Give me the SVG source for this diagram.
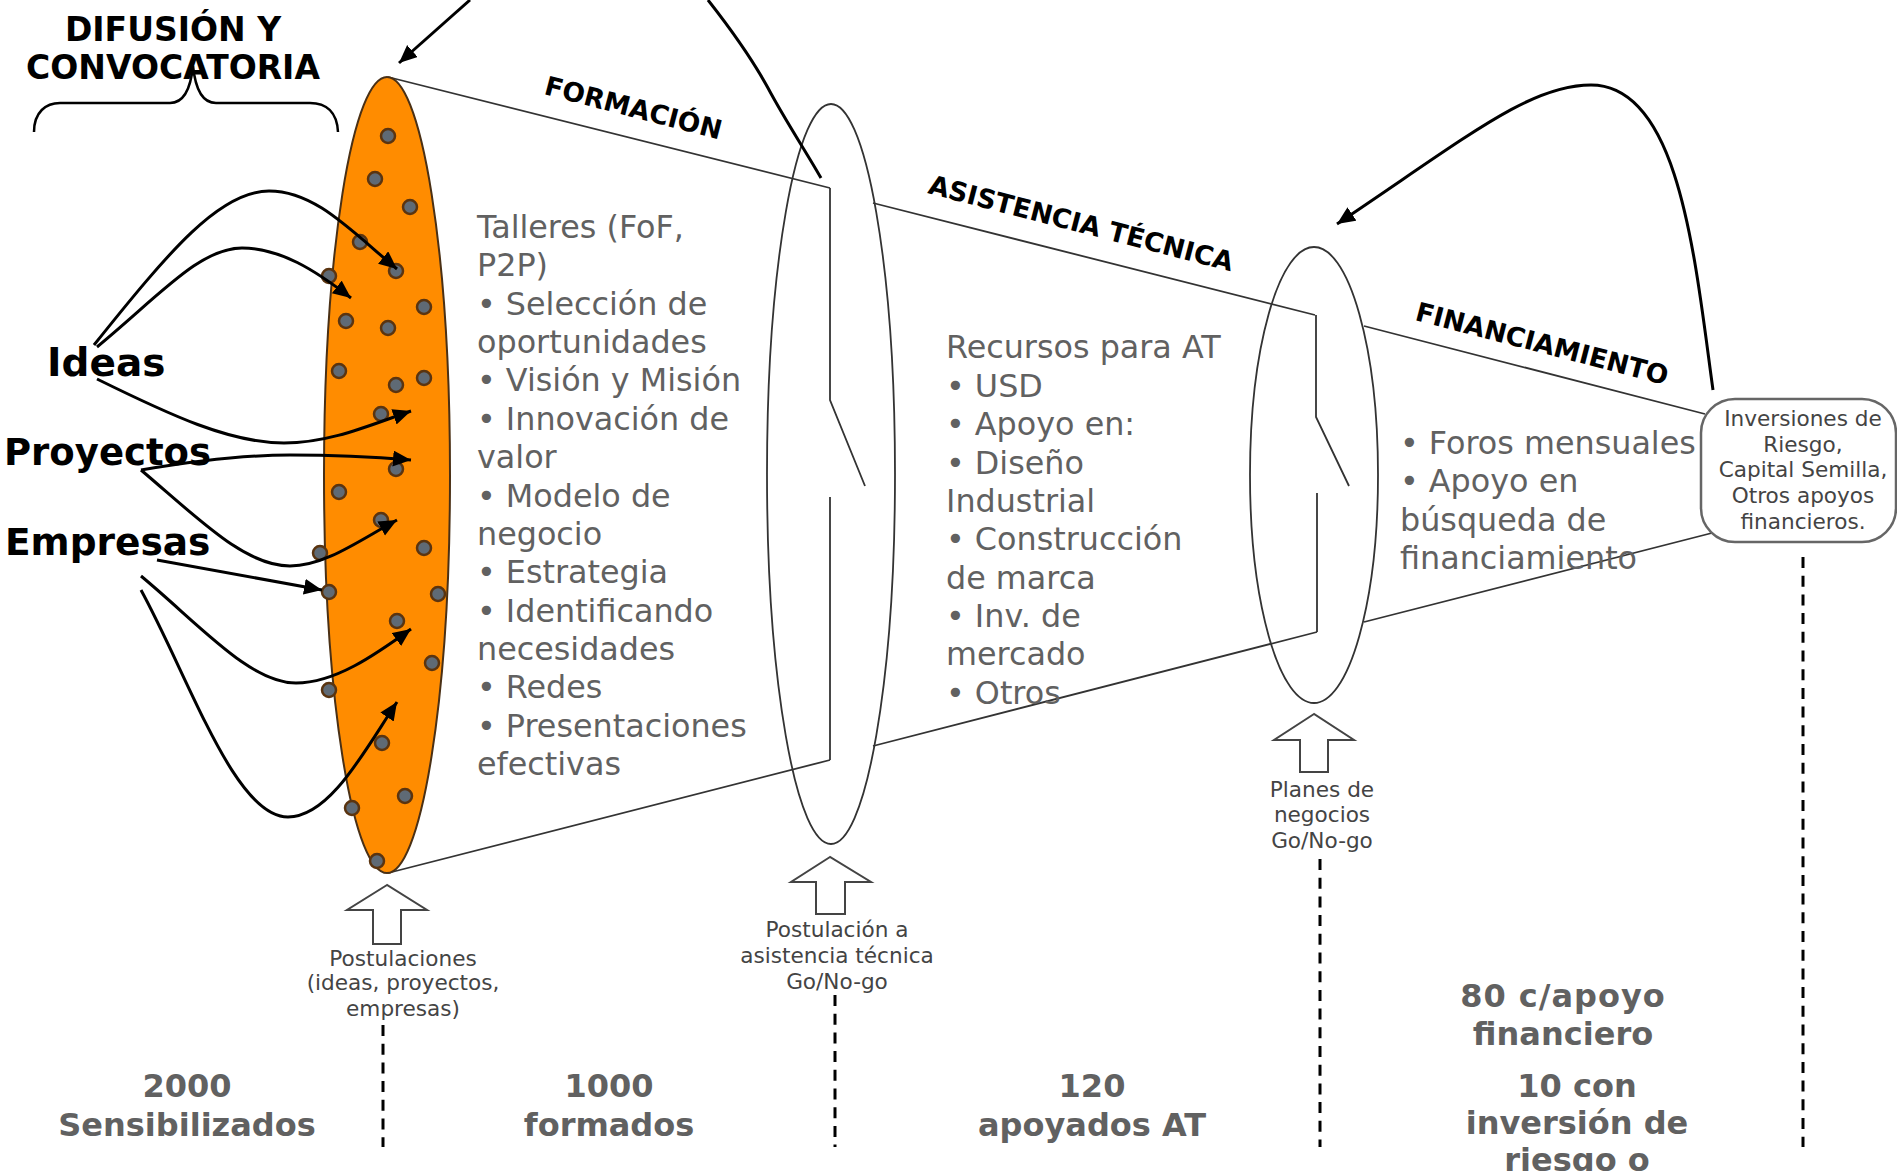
<svg xmlns="http://www.w3.org/2000/svg" width="1897" height="1171" viewBox="0 0 1897 1171">
<style>
text{font-family:"DejaVu Sans",Verdana,sans-serif}
.h{font-weight:bold;fill:#000}
.b{font-size:31.8px;fill:#616161}
.s{font-size:32px;font-weight:bold;fill:#616161;text-anchor:middle}
.c{font-size:21.6px;fill:#444;text-anchor:middle}
.st{font-size:26.5px;font-weight:bold;fill:#000}
.o{fill:none;stroke:#333;stroke-width:1.8}
.a{fill:none;stroke:#000;stroke-width:3;marker-end:url(#m)}
.n{fill:none;stroke:#000;stroke-width:3}
.d{fill:#5f6a75;stroke:#5a3410;stroke-width:2.5}
.v{stroke:#000;stroke-width:3;stroke-dasharray:11 7.7;fill:none}
.u{fill:#fff;stroke:#444;stroke-width:2}
</style>
<defs>
<marker id="m" markerUnits="userSpaceOnUse" markerWidth="20" markerHeight="18" refX="18" refY="8" orient="auto"><path d="M0 0L18 8L0 16z" fill="#000"/></marker>
</defs>
<rect width="1897" height="1171" fill="#fff"/>
<g id="funnel">
<path class="o" d="M388 77L830 188M388 873L830 760M873 203L1315 315M873 746L1317 632M1364 326L1705 414M1364 622L1712 533"/>
<path class="o" d="M830 188V400L865 486M830 497V760M1316 315V417L1349 486M1317 493V632"/>
</g>
<g id="ellipse-difusion"><ellipse cx="387" cy="475" rx="63" ry="398" fill="#ff8c00" stroke="#4a3015" stroke-width="2"/>
<g id="dots">
<circle class="d" cx="388" cy="136" r="7"/><circle class="d" cx="375" cy="179" r="7"/><circle class="d" cx="410" cy="207" r="7"/><circle class="d" cx="360" cy="242" r="7"/>
<circle class="d" cx="329" cy="276" r="7"/><circle class="d" cx="396" cy="271" r="7"/><circle class="d" cx="424" cy="307" r="7"/><circle class="d" cx="346" cy="321" r="7"/>
<circle class="d" cx="388" cy="328" r="7"/><circle class="d" cx="339" cy="371" r="7"/><circle class="d" cx="424" cy="378" r="7"/><circle class="d" cx="396" cy="385" r="7"/>
<circle class="d" cx="381" cy="414" r="7"/><circle class="d" cx="396" cy="469" r="7"/><circle class="d" cx="339" cy="492" r="7"/><circle class="d" cx="381" cy="520" r="7"/>
<circle class="d" cx="320" cy="553" r="7"/><circle class="d" cx="424" cy="548" r="7"/><circle class="d" cx="329" cy="592" r="7"/><circle class="d" cx="438" cy="594" r="7"/>
<circle class="d" cx="397" cy="621" r="7"/><circle class="d" cx="432" cy="663" r="7"/><circle class="d" cx="329" cy="690" r="7"/><circle class="d" cx="382" cy="743" r="7"/><circle class="d" cx="405" cy="796" r="7"/><circle class="d" cx="352" cy="808" r="7"/><circle class="d" cx="377" cy="861" r="7"/>
</g></g>
<g id="ellipse-at"><ellipse class="o" cx="831" cy="474" rx="64" ry="370"/></g>
<g id="ellipse-fin"><ellipse class="o" cx="1314" cy="475" rx="64" ry="228"/></g>
<g id="connectors">
<path class="a" d="M94 345C170 250 220 191 269 191C315 191 350 230 397 269"/>
<path class="a" d="M97 347C160 295 200 248 242 248C280 248 315 270 351 298"/>
<path class="a" d="M97 379C170 415 230 443 284 443C330 443 370 425 411 411"/>
<path class="a" d="M141 470C200 460 250 455 290 455C335 455 375 457 411 460"/>
<path class="a" d="M141 470C200 520 245 566 290 566C325 566 360 540 397 520"/>
<path class="a" d="M157 560L322 590"/>
<path class="a" d="M141 576C200 625 250 683 296 683C335 683 375 655 411 629"/>
<path class="a" d="M141 590C190 680 235 817 288 817C330 817 365 750 397 702"/>
<path class="a" d="M470 0L399 63"/>
<path class="n" d="M708 0C730 28 750 55 768 88C785 120 805 150 821 178"/>
<path class="a" d="M1713 390C1695 260 1680 85 1591 85C1530 85 1470 135 1337 224"/>
<path d="M34 132C34 112 46 103 60 103H170C180 103 190 95 193 66C196 95 206 103 216 103H310C326 103 337 112 338 132" fill="none" stroke="#000" stroke-width="2.5"/>
<path class="v" d="M383 1025V1147M835 995V1147M1320 859V1147M1803 557V1147"/>
</g>
<g id="label-difusion"><text class="h" text-anchor="middle" x="173" y="41" style="font-size:33px">DIFUSIÓN Y</text><text class="h" text-anchor="middle" x="173" y="79" style="font-size:33px">CONVOCATORIA</text></g>
<g id="label-ideas"><text class="h" x="47" y="376" style="font-size:39px">Ideas</text></g>
<g id="label-proyectos"><text class="h" x="4" y="465" style="font-size:37px">Proyectos</text></g>
<g id="label-empresas"><text class="h" x="5" y="555" style="font-size:37.5px">Empresas</text></g>
<text class="st" transform="translate(543 94) rotate(14.5)">FORMACIÓN</text>
<text class="st" transform="translate(927 193) rotate(14.5)">ASISTENCIA TÉCNICA</text>
<text class="st" transform="translate(1414 320) rotate(14.5)">FINANCIAMIENTO</text>
<g id="text-formacion"><text class="b"><tspan x="477" y="238">Talleres (FoF,</tspan><tspan x="477" y="276">P2P)</tspan><tspan x="477" y="315">• Selección de</tspan><tspan x="477" y="353">oportunidades</tspan><tspan x="477" y="391">• Visión y Misión</tspan><tspan x="477" y="430">• Innovación de</tspan><tspan x="477" y="468">valor</tspan><tspan x="477" y="507">• Modelo de</tspan><tspan x="477" y="545">negocio</tspan><tspan x="477" y="583">• Estrategia</tspan><tspan x="477" y="622">• Identificando</tspan><tspan x="477" y="660">necesidades</tspan><tspan x="477" y="698">• Redes</tspan><tspan x="477" y="737">• Presentaciones</tspan><tspan x="477" y="775">efectivas</tspan></text></g>
<g id="text-at"><text class="b"><tspan x="946" y="358">Recursos para AT</tspan><tspan x="946" y="397">• USD</tspan><tspan x="946" y="435">• Apoyo en:</tspan><tspan x="946" y="474">• Diseño</tspan><tspan x="946" y="512">Industrial</tspan><tspan x="946" y="550">• Construcción</tspan><tspan x="946" y="589">de marca</tspan><tspan x="946" y="627">• Inv. de</tspan><tspan x="946" y="665">mercado</tspan><tspan x="946" y="704">• Otros</tspan></text></g>
<g id="text-fin"><text class="b"><tspan x="1400" y="454">• Foros mensuales</tspan><tspan x="1400" y="492">• Apoyo en</tspan><tspan x="1400" y="531">búsqueda de</tspan><tspan x="1400" y="569">financiamiento</tspan></text></g>
<g id="node-inversiones"><rect x="1701" y="399" width="195" height="143" rx="34" fill="#fff" stroke="#666" stroke-width="2.5"/><text class="c"><tspan x="1803" y="426">Inversiones de</tspan><tspan x="1803" y="452">Riesgo,</tspan><tspan x="1803" y="477">Capital Semilla,</tspan><tspan x="1803" y="503">Otros apoyos</tspan><tspan x="1803" y="529">financieros.</tspan></text></g>
<g id="gate1"><path class="u" d="M387 885L347 910H373V944H401V910H427z"/><text class="c"><tspan x="403" y="966">Postulaciones</tspan><tspan x="403" y="990">(ideas, proyectos,</tspan><tspan x="403" y="1016">empresas)</tspan></text></g>
<g id="gate2"><path class="u" d="M830 857L791 882H816V914H845V882H871z"/><text class="c"><tspan x="837" y="937">Postulación a</tspan><tspan x="837" y="963">asistencia técnica</tspan><tspan x="837" y="989">Go/No-go</tspan></text></g>
<g id="gate3"><path class="u" d="M1314 714L1274 740H1300V772H1328V740H1354z"/><text class="c"><tspan x="1322" y="797">Planes de</tspan><tspan x="1322" y="822">negocios</tspan><tspan x="1322" y="848">Go/No-go</tspan></text></g>
<g id="stat1"><text class="s"><tspan x="187" y="1097">2000</tspan><tspan x="187" y="1136">Sensibilizados</tspan></text></g>
<g id="stat2"><text class="s"><tspan x="609" y="1097">1000</tspan><tspan x="609" y="1136">formados</tspan></text></g>
<g id="stat3"><text class="s"><tspan x="1092" y="1097">120</tspan><tspan x="1092" y="1136">apoyados AT</tspan></text></g>
<g id="stat4"><text class="s"><tspan x="1563" y="1007" letter-spacing="1">80 c/apoyo</tspan><tspan x="1563" y="1045">financiero</tspan></text></g>
<g id="stat5"><text class="s"><tspan x="1577" y="1097">10 con</tspan><tspan x="1577" y="1134">inversión de</tspan><tspan x="1577" y="1171">riesgo o</tspan></text></g>
</svg>
